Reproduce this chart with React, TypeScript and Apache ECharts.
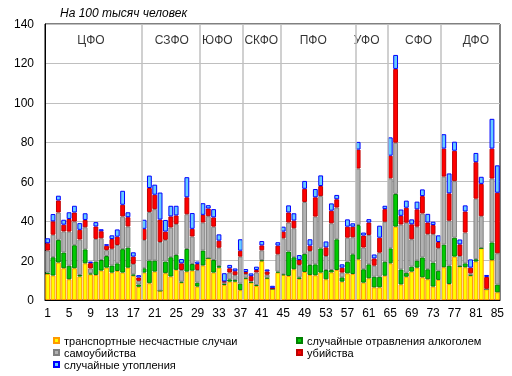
import React, { useEffect, useRef } from "react";
import * as echarts from "echarts";

const categories = Array.from({ length: 85 }, (_, i) => String(i + 1));

const transport = [
  13.2, 12.4, 19.0, 16.1, 10.5, 16.1, 11.9, 18.6, 13.0, 12.7, 14.9, 16.4, 13.9, 14.7, 13.9, 16.4, 12.3, 6.7,
  13.9, 8.5, 14.4, 4.7, 13.6, 11.9, 15.3, 8.8, 14.4, 14.9, 6.8,
  17.5, 21.2, 13.9, 16.4, 7.6, 9.3, 9.3, 5.0,
  10.8, 8.8, 7.1, 19.7, 11.0, 5.6, 13.9,
  12.7, 12.2, 15.6, 10.7, 14.2, 12.7, 12.5, 13.9, 10.5, 14.0, 15.2, 9.3, 13.5, 13.2,
  20.6, 8.8, 11.0, 6.4, 6.4, 12.3,
  18.6, 37.2, 7.9, 11.8, 14.4, 16.4, 11.5, 10.5, 6.8, 10.2,
  16.6, 8.1, 22.0, 16.9, 16.6, 12.3, 19.5, 26.2, 5.4, 20.2, 3.9,
];
const alcohol = [
  0.7, 9.3, 11.5, 8.0, 6.9, 11.7, 0.8, 7.1, 0.5, 6.8, 5.4, 5.9, 3.6, 3.9, 11.9, 10.2, 0.7, 1.2,
  2.2, 11.5, 5.6, 0, 5.9, 9.8, 7.6, 0.5, 11.5, 3.4, 2.0,
  7.6, 0, 6.4, 0.8, 0.5, 1.2, 0.8, 3.3,
  0.5, 0.3, 0.5, 0.5, 0.3, 0, 0.5,
  0.3, 12.4, 6.1, 0.8, 9.2, 5.1, 5.6, 12.3, 4.7, 1.2, 15.6, 2.2, 5.9, 10.0,
  17.4, 6.8, 7.1, 5.4, 5.4, 7.1,
  7.6, 16.6, 7.6, 2.0, 2.5, 3.6, 10.1, 5.1, 12.2, 4.6,
  11.5, 9.3, 9.6, 0.3, 2.0, 0.5, 1.2, 0.2, 0, 9.0, 3.9,
];
const suicide = [
  11.2, 11.4, 13.9, 10.7, 17.3, 12.0, 18.0, 11.2, 2.5, 11.5, 11.0, 3.0, 8.5, 9.3, 16.6, 10.7, 5.3, 1.8,
  14.4, 24.6, 26.1, 24.7, 11.0, 15.1, 15.6, 5.9, 17.6, 13.9, 6.4,
  14.2, 21.3, 16.9, 9.3, 1.0, 3.4, 2.5, 13.7,
  1.9, 0.5, 6.4, 5.0, 1.5, 0.2, 8.8,
  18.3, 14.7, 14.7, 6.3, 26.3, 7.1, 24.2, 26.5, 7.1, 23.7, 16.1, 2.4, 12.2, 8.6,
  28.7, 11.0, 14.9, 5.6, 12.2, 20.3,
  35.5, 26.0, 22.8, 25.4, 13.9, 17.2, 22.3, 17.8, 14.4, 11.5,
  34.5, 22.8, 28.7, 5.1, 15.6, 0.7, 30.7, 16.1, 0.3, 32.4, 15.9,
];
const murder = [
  3.7, 6.8, 6.1, 3.4, 6.4, 4.6, 4.9, 3.7, 2.7, 6.3, 3.6, 2.2, 4.9, 4.2, 5.9, 4.7, 3.7, 1.7,
  5.6, 12.2, 7.3, 11.4, 4.2, 5.6, 4.4, 3.4, 8.6, 3.9, 3.1,
  3.9, 3.9, 4.7, 3.6, 0.3, 2.2, 2.0, 3.0,
  1.0, 2.5, 1.2, 2.5, 1.7, 0.2, 4.4,
  3.4, 5.1, 3.9, 2.5, 6.7, 2.7, 9.8, 5.1, 4.4, 6.4, 4.2, 2.5, 5.6, 5.4,
  9.6, 6.1, 6.3, 3.7, 7.6, 6.4,
  11.5, 37.4, 4.4, 7.6, 7.6, 8.8, 8.8, 5.9, 4.6, 3.1,
  14.2, 13.9, 15.4, 5.9, 10.7, 2.9, 18.5, 16.4, 6.0, 15.2, 30.7,
];
const drowning = [
  2.5, 3.7, 2.4, 2.5, 3.4, 3.4, 3.4, 3.4, 0.8, 2.2, 1.0, 0.8, 1.9, 3.7, 7.1, 2.5, 2.2, 1.2,
  4.6, 6.3, 5.1, 13.7, 5.9, 5.4, 4.9, 2.2, 10.2, 8.0, 1.2,
  5.9, 1.7, 4.2, 3.2, 4.2, 1.7, 1.4, 5.8,
  1.5, 1.4, 1.7, 2.2, 1.0, 1.2, 1.7,
  2.5, 3.6, 3.7, 2.5, 4.0, 3.2, 4.2, 5.4, 3.0, 3.7, 2.2, 1.7, 3.7, 1.7,
  3.9, 1.5, 1.7, 2.0, 6.1, 1.7,
  9.3, 7.1, 3.2, 3.6, 2.5, 3.9, 3.4, 4.4, 1.7, 3.4,
  7.3, 10.1, 4.6, 2.5, 3.1, 4.2, 4.7, 3.6, 1.0, 15.1, 13.9,
];

const seriesNames = [
  "транспортные несчастные случаи",
  "случайные отравления алкоголем",
  "самоубийства",
  "убийства",
  "случайные утопления",
];
const seriesValues = [transport, alcohol, suicide, murder, drowning];
const fills = ["#FFFF00", "#00CC00", "#B2B2B2", "#FF0000", "#66CCFF"];
const strokes = ["#FF9900", "#008000", "#808080", "#C00000", "#0000FF"];

const districts = ["ЦФО", "СЗФО", "ЮФО", "СКФО", "ПФО", "УФО", "СФО", "ДФО"];
const districtSizes = [18, 11, 8, 7, 14, 6, 10, 11];
const districtLabelAt = [9.1, 24.2, 32.7, 40.9, 50.6, 60.6, 70.3, 81.0];
const districtLabelValue = 132;

const title = "На 100 тысяч человек";
const FONT = "'Liberation Sans', Arial, sans-serif";

export default function App() {
  const ref = useRef<HTMLDivElement>(null);
  useEffect(() => {
    if (!ref.current) return;
    const chart = echarts.init(ref.current, null, { renderer: "svg" });
    const boundaries: number[] = [];
    let acc = 0;
    for (let i = 0; i < districtSizes.length - 1; i++) {
      acc += districtSizes[i];
      boundaries.push(acc);
    }
    const bars = seriesValues.map((vals, k) => ({
      name: seriesNames[k],
      type: "bar",
      stack: "total",
      barCategoryGap: "10%",
      data: vals,
      z: 3,
      itemStyle: { color: fills[k], borderColor: strokes[k], borderWidth: 1 },
    }));
    chart.setOption({
      animation: false,
      textStyle: { fontFamily: FONT },
      title: {
        text: title,
        left: 60,
        top: 7,
        padding: 0,
        textStyle: { fontStyle: "italic", fontWeight: "normal", fontSize: 12, color: "#000", fontFamily: FONT },
      },
      grid: { left: 45, right: 12, top: 24, bottom: 76, show: true, borderColor: "#000", borderWidth: 1 },
      legend: [
        {
          data: [seriesNames[0], seriesNames[2], seriesNames[4]],
          orient: "vertical",
          left: 53,
          top: 335,
          padding: 0,
          itemWidth: 5,
          itemHeight: 5,
          itemGap: 1,
          icon: "rect",
          textStyle: { fontSize: 11, lineHeight: 11, color: "#000", fontFamily: FONT },
        },
        {
          data: [seriesNames[1], seriesNames[3]],
          orient: "vertical",
          left: 296,
          top: 335,
          padding: 0,
          itemWidth: 5,
          itemHeight: 5,
          itemGap: 1,
          icon: "rect",
          textStyle: { fontSize: 11, lineHeight: 11, color: "#000", fontFamily: FONT },
        },
      ],
      xAxis: [
        {
          type: "category",
          data: categories,
          axisLine: { lineStyle: { color: "#000", width: 1 } },
          axisTick: { show: false },
          axisLabel: { interval: 3, fontSize: 12, color: "#000", margin: 7, fontFamily: FONT },
        },
        { type: "value", min: 0, max: 85, show: false },
      ],
      yAxis: {
        type: "value",
        min: 0,
        max: 140,
        interval: 20,
        axisLine: { show: true, lineStyle: { color: "#000", width: 1 } },
        axisTick: { show: false },
        axisLabel: { fontSize: 12, color: "#000", margin: 11, fontFamily: FONT },
        splitLine: { lineStyle: { color: "#BFBFBF", width: 1 } },
      },
      series: [
        ...bars,
        {
          type: "scatter",
          xAxisIndex: 1,
          yAxisIndex: 0,
          symbolSize: 1,
          z: 1,
          silent: true,
          itemStyle: { color: "rgba(0,0,0,0)" },
          data: districts.map((d, i) => ({ name: d, value: [districtLabelAt[i] - 0.5, districtLabelValue] })),
          label: { show: true, position: "inside", formatter: "{b}", color: "#000", fontSize: 12, fontFamily: FONT },
          markLine: {
            silent: true,
            symbol: ["none", "none"],
            label: { show: false },
            lineStyle: { color: "#C0C0C0", width: 1.5, type: "solid" },
            data: boundaries.map((b) => ({ xAxis: b })),
          },
        },
      ],
    });
    return () => chart.dispose();
  }, []);
  return <div ref={ref} style={{ position: "fixed", left: 0, top: 0, width: 512, height: 376 }} />;
}
